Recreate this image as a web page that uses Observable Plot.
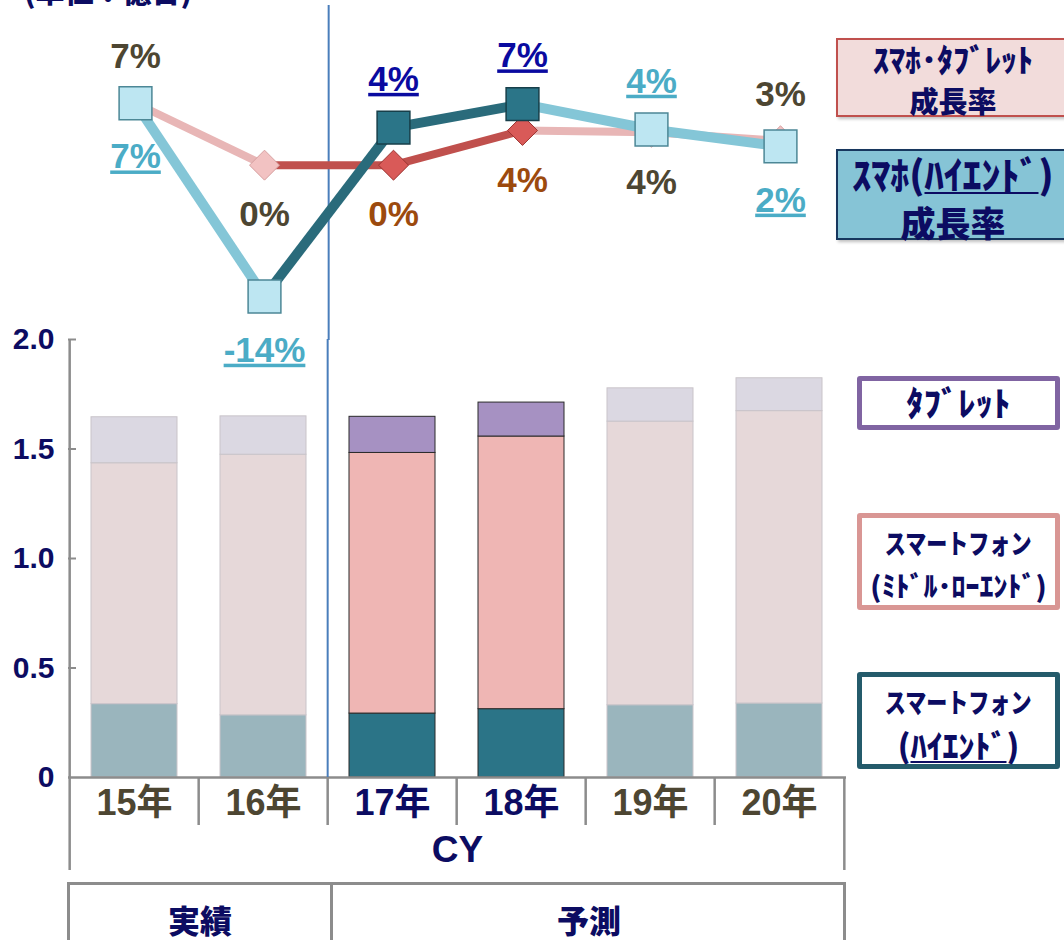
<!DOCTYPE html>
<html>
<head>
<meta charset="utf-8">
<script src="https://cdn.jsdelivr.net/npm/d3@7"></script>
<script src="https://cdn.jsdelivr.net/npm/@observablehq/plot@0.6"></script>
<style>
  html, body { margin: 0; padding: 0; background: #fff; }
  body { width: 1064px; height: 940px; overflow: hidden; position: relative;
         font-family: "Liberation Sans", "Noto Sans CJK JP", sans-serif; }
  #bars, #lines { position: absolute; left: 0; }
  #bars { top: 320px; }
  #lines { top: 0; }
  .jp { font-family: "Noto Sans CJK JP", sans-serif; font-weight: 900; color: #0c0c62; }
  #unit { position: absolute; left: 24px; top: -25px; font-size: 29px; line-height: 30px; }
  .box { position: absolute; box-sizing: border-box; text-align: center; }
  .box .ln { position: absolute; left: 0; right: 0; text-align: center; white-space: nowrap; }
  .sq { display: inline-block; }
  u { text-decoration-thickness: 2px; text-underline-offset: 3px; }
  #tbl { position: absolute; left: 67px; top: 882px; width: 779px; height: 80px; box-sizing: border-box;
         border-top: 3px solid #8c8c8c; border-left: 3px solid #8c8c8c; border-right: 3px solid #8c8c8c; }
  #tbl .div { position: absolute; left: 260px; top: 0; bottom: 0; border-left: 3px solid #8c8c8c; }
  #tbl .cell { position: absolute; top: 14px; height: 40px; line-height: 40px; font-size: 32px; text-align: center; }
  .uline text { text-decoration: underline; text-decoration-thickness: 2px; text-underline-offset: 4px; }
</style>
</head>
<body>
<div id="unit" class="jp">(単位：億台)</div>
<div id="bars"></div>
<div id="lines"></div>

<div class="box jp" style="left:836px;top:38px;width:234px;height:79px;background:#f2dcdb;border:2px solid #c0504d;box-shadow:2px 2px 3px rgba(0,0,0,0.25);">
  <div class="ln" style="top:1px;font-size:32px;line-height:34px;">ｽﾏﾎ･ﾀﾌﾞﾚｯﾄ</div>
  <div class="ln" style="top:44px;font-size:29px;line-height:32px;">成長率</div>
</div>
<div class="box jp" style="left:836px;top:149px;width:234px;height:91px;background:#86c4d6;border:2px solid #17375e;box-shadow:2px 2px 3px rgba(0,0,0,0.25);">
  <div class="ln" style="top:3px;font-size:38px;line-height:38px;">ｽﾏﾎ(<u>ﾊｲｴﾝﾄﾞ</u>)</div>
  <div class="ln" style="top:53px;font-size:35px;line-height:36px;">成長率</div>
</div>
<div class="box jp" style="left:857px;top:376px;width:203px;height:54px;background:#fff;border:5px solid #8064a2;border-radius:3px;">
  <div class="ln" style="top:2px;font-size:34px;line-height:38px;letter-spacing:0.5px;">ﾀﾌﾞﾚｯﾄ</div>
</div>
<div class="box jp" style="left:857px;top:513px;width:203px;height:97px;background:#fff;border:5px solid #d99694;border-radius:3px;">
  <div class="ln" style="top:8px;font-size:27px;line-height:34px;"><span class="sq" style="transform:scaleX(0.78);">スマートフォン</span></div>
  <div class="ln" style="top:51px;font-size:28px;line-height:32px;">(ﾐﾄﾞﾙ･ﾛｰｴﾝﾄﾞ)</div>
</div>
<div class="box jp" style="left:857px;top:672px;width:203px;height:97px;background:#fff;border:5px solid #245b6b;border-radius:3px;">
  <div class="ln" style="top:8px;font-size:27px;line-height:34px;"><span class="sq" style="transform:scaleX(0.78);">スマートフォン</span></div>
  <div class="ln" style="top:49px;font-size:32px;line-height:36px;">(<u>ﾊｲｴﾝﾄﾞ</u>)</div>
</div>

<div id="tbl" class="jp">
  <div class="div"></div>
  <div class="cell" style="left:0;width:260px;">実績</div>
  <div class="cell" style="left:262px;width:514px;">予測</div>
</div>

<script>
// ---- data ----
const categories = ["15年", "16年", "17年", "18年", "19年", "20年"];
const highlighted = [false, false, true, true, false, false];
// 億台
const highEnd = [0.335, 0.284, 0.292, 0.312, 0.330, 0.338];
const midLow  = [1.100, 1.190, 1.190, 1.245, 1.295, 1.335];
const tablet  = [0.210, 0.175, 0.165, 0.155, 0.152, 0.150];
// growth rates (%)
const totalGrowth   = [6.6, 0.0, 0.0, 3.7, 3.5, 2.6];
const highEndGrowth = [6.6, -14.0, 4.0, 6.5, 3.8, 2.0];
const totalLabelSide   = ["above", "below", "below", "below", "below", "above"];
const highEndLabelSide = ["below", "below", "above", "above", "above", "below"];
const yTicks = [0, 0.5, 1.0, 1.5, 2.0];
const seriesKeys = ["high", "mid", "tab"];
const seriesValues = {high: highEnd, mid: midLow, tab: tablet};

// ---- styles ----
const fadedFill  = {high: "#9ab5bd", mid: "#e6d8d9", tab: "#dbd8e2"};
const strongFill = {high: "#2b7487", mid: "#efb6b4", tab: "#a691c2"};
const navy = "#0c0c62", olive = "#4d4632", grey = "#8c8c8c", divider = "#4a7ebb";
const W = 1064, ML = 68, MR = 218;
const step = (W - ML - MR) / categories.length;
const FONT = "Liberation Sans, Arial, Noto Sans CJK JP, sans-serif";

// ---- bars ----
const rows = [];
categories.forEach((c, i) => {
  seriesKeys.forEach(s => {
    rows.push({
      cat: c, series: s, value: seriesValues[s][i],
      fill: highlighted[i] ? strongFill[s] : fadedFill[s],
      stroke: highlighted[i] ? "#2a2a2a" : "#c9c4c9"
    });
  });
});
const BH = 620, BMT = 19, BMB = 163;
const plotH = BH - BMT - BMB;

const bars = Plot.plot({
  width: W, height: BH, marginLeft: ML, marginRight: MR, marginTop: BMT, marginBottom: BMB,
  style: {background: "transparent", overflow: "visible"},
  x: {type: "band", domain: categories, paddingInner: 0.33, paddingOuter: 0.165, axis: null},
  y: {domain: [0, 2], axis: null},
  color: {type: "identity"},
  marks: [
    Plot.barY(rows, {x: "cat", y: "value", z: "series", fill: "fill", stroke: "stroke", strokeWidth: 1}),
    Plot.ruleY([0], {stroke: grey, strokeWidth: 2.5}),
    Plot.ruleY(yTicks.slice(1), {stroke: grey, strokeWidth: 2, insetRight: W - ML - MR - 8}),
    Plot.ruleX([categories[0]], {dx: -step / 2, stroke: grey, strokeWidth: 2.5, insetBottom: -93}),
    Plot.ruleX(categories.slice(1), {dx: -step / 2, stroke: grey, strokeWidth: 2.5, insetTop: plotH, insetBottom: -48}),
    Plot.ruleX([categories[categories.length - 1]], {dx: step / 2, stroke: grey, strokeWidth: 2.5, insetTop: plotH, insetBottom: -93}),
    Plot.ruleX([categories[2]], {dx: -step / 2, stroke: divider, strokeWidth: 2}),
    Plot.text(yTicks, {y: d => d, text: d => d === 0 ? "0" : d.toFixed(1), frameAnchor: "left", dx: -14,
      textAnchor: "end", fontSize: 30, fontWeight: "bold", fontFamily: FONT, fill: navy}),
    Plot.text(categories, {x: d => d, text: d => d, frameAnchor: "bottom", dy: 37,
      fill: (d, i) => highlighted[i] ? navy : olive, fontSize: 36, fontWeight: "bold", fontFamily: FONT}),
    Plot.text(["CY"], {text: d => d, frameAnchor: "bottom", dy: 84, fill: navy, fontSize: 37, fontWeight: "bold", fontFamily: FONT})
  ]
});
document.getElementById("bars").appendChild(bars);

// ---- growth lines ----
const mkSegs = g => d3.range(categories.length - 1).map(i => ({
  x1: categories[i], x2: categories[i + 1], y1: g[i], y2: g[i + 1], strong: highlighted[i + 1]
}));
const mkPts = (g, side) => categories.map((c, i) => ({cat: c, v: g[i], strong: highlighted[i], side: side[i]}));
const totalSegs = mkSegs(totalGrowth), highSegs = mkSegs(highEndGrowth);
const totalPts = mkPts(totalGrowth, totalLabelSide), highPts = mkPts(highEndGrowth, highEndLabelSide);
const pct = v => Math.round(v) + "%";

const totalText = {x: "cat", y: "v", text: d => pct(d.v), fill: d => d.strong ? "#9c4a0e" : olive,
  fontSize: 35, fontWeight: "bold", fontFamily: FONT};
const highText = {x: "cat", y: "v", text: d => pct(d.v), fill: d => d.strong ? "#0a0aa0" : "#4bacc6",
  fontSize: 35, fontWeight: "bold", fontFamily: FONT};

const lines = Plot.plot({
  width: W, height: 380, marginLeft: ML, marginRight: MR, marginTop: 99, marginBottom: 84,
  style: {background: "transparent", overflow: "visible"},
  x: {type: "point", domain: categories, padding: 0.5, axis: null},
  y: {domain: [-14, 7], axis: null},
  color: {type: "identity"},
  marks: [
    Plot.ruleX([categories[2]], {dx: -step / 2, stroke: divider, strokeWidth: 2, insetTop: -94, insetBottom: -44}),
    Plot.link(totalSegs, {x1: "x1", x2: "x2", y1: "y1", y2: "y2", stroke: d => d.strong ? "#c0504d" : "#e8b6b6", strokeWidth: 8}),
    Plot.dot(totalPts, {x: "cat", y: "v", symbol: "diamond2", r: 13.5,
      fill: d => d.strong ? "#d95a58" : "#f2c2c2", stroke: d => d.strong ? "#9b3330" : "#d6a0a0", strokeWidth: 1}),
    Plot.link(highSegs, {x1: "x1", x2: "x2", y1: "y1", y2: "y2", stroke: d => d.strong ? "#2a6b7b" : "#84c6d7", strokeWidth: 10}),
    Plot.dot(highPts, {x: "cat", y: "v", symbol: "square", r: 18.5,
      fill: d => d.strong ? "#2b7588" : "#bde6f2", stroke: d => d.strong ? "#173f4a" : "#4c8796", strokeWidth: 1.5}),
    Plot.text(totalPts, {...totalText, filter: d => d.side === "above", dy: -46}),
    Plot.text(totalPts, {...totalText, filter: d => d.side === "below", dy: 50}),
    Plot.text(highPts, {...highText, filter: d => d.side === "above", dy: -48}),
    Plot.text(highPts, {...highText, filter: d => d.side === "below", dy: 54})
  ]
});
document.getElementById("lines").appendChild(lines);

// underline the high-end growth labels (last two text marks)
const textGroups = d3.select(lines).selectAll("g[aria-label='text']").nodes();
textGroups.slice(-2).forEach(g => g.classList.add("uline"));
</script>
</body>
</html>
